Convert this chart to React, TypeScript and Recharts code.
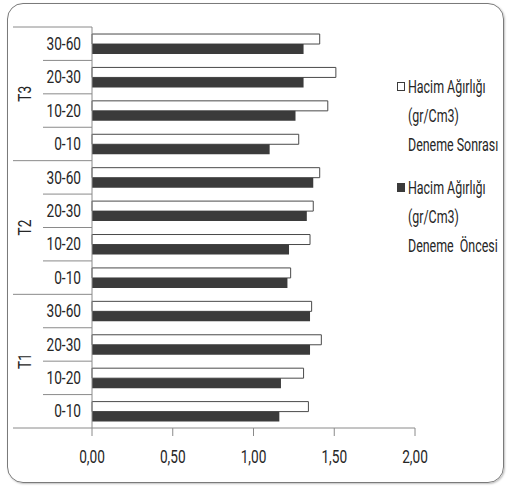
import React from 'react';
import { BarChart, Bar, XAxis, YAxis } from 'recharts';

// Soil depth classes (cm) per treatment, listed top to bottom
const groups = ['T3', 'T2', 'T1'];
const depths = ['30-60', '20-30', '10-20', '0-10'];

// Bulk density (gr/Cm3) after and before the trial
const sonrasi = [1.41, 1.51, 1.46, 1.28, 1.41, 1.37, 1.35, 1.23, 1.36, 1.42, 1.31, 1.34];
const oncesi = [1.31, 1.31, 1.26, 1.1, 1.37, 1.33, 1.22, 1.21, 1.35, 1.35, 1.17, 1.16];

const xTicks = [0, 0.5, 1, 1.5, 2];

const legendAfter = ['Hacim Ağırlığı', '(gr/Cm3)', 'Deneme Sonrası'];
const legendBefore = ['Hacim Ağırlığı', '(gr/Cm3)', 'Deneme  Öncesi'];

const data = groups.flatMap((g, gi) =>
  depths.map((d, di) => ({
    key: `${g}|${d}`,
    group: g,
    depth: d,
    sonrasi: sonrasi[gi * 4 + di],
    oncesi: oncesi[gi * 4 + di],
  }))
);

const W = 509;
const H = 486;
const X_AXIS_H = 30;
const M = { top: 27, right: 94, bottom: 58 - X_AXIS_H, left: 0 };
const AXIS_W = 92;
const PLOT_H = H - 27 - 58;
const BAND = PLOT_H / data.length;

const FONT = 'Roboto, "DejaVu Sans", sans-serif';
const FS = 18;
const SQUEEZE = 0.76;
const LEGEND_SQUEEZE = 0.69;
const LINE = '#8a8a8a';
const TEXT = '#262626';
const DARK = '#3b3b3b';

// Narrow text, like a condensed face
function NarrowText({ x, y, anchor, children, rotate = 0 }: any) {
  return (
    <g transform={`translate(${x} ${y}) rotate(${rotate}) scale(${SQUEEZE} 1)`}>
      <text x={0} y={0} textAnchor={anchor} dominantBaseline="central" fill={TEXT} fontSize={FS} fontFamily={FONT}>
        {children}
      </text>
    </g>
  );
}

function CategoryTick(props: any) {
  const { y, payload } = props;
  const i: number = payload.index;
  const row = data[i];
  const half = BAND / 2;
  const isGroupEnd = i % depths.length === depths.length - 1;
  return (
    <g>
      {i === 0 && <line x1={13} x2={AXIS_W} y1={y - half} y2={y - half} stroke={LINE} />}
      <line x1={isGroupEnd ? 13 : 43} x2={AXIS_W} y1={y + half} y2={y + half} stroke={LINE} />
      <NarrowText x={81} y={y} anchor="end">
        {row.depth}
      </NarrowText>
      {i % depths.length === 1 && (
        <NarrowText x={25} y={y + half} anchor="middle" rotate={-90}>
          {row.group}
        </NarrowText>
      )}
    </g>
  );
}

function ValueTick(props: any) {
  const { x, y, payload } = props;
  const label = Number(payload.value).toFixed(2).replace('.', ',');
  return (
    <NarrowText x={x} y={y + 19} anchor="middle">
      {label}
    </NarrowText>
  );
}

function LegendEntry({ fill, lines, top }: { fill: string; lines: string[]; top: number }) {
  return (
    <div style={{ position: 'absolute', left: 397, top }}>
      {lines.map((t, j) => (
        <div key={j} style={{ position: 'relative', height: 29 }}>
          {j === 0 && (
            <span
              style={{
                position: 'absolute',
                left: 0,
                top: 10,
                width: 8,
                height: 9,
                boxSizing: 'border-box',
                background: fill,
                border: `1px solid ${DARK}`,
              }}
            />
          )}
          <span
            style={{
              position: 'absolute',
              left: 11,
              top: 0,
              lineHeight: '29px',
              whiteSpace: 'pre',
              fontFamily: FONT,
              fontSize: FS,
              color: TEXT,
              transform: `scaleX(${LEGEND_SQUEEZE})`,
              transformOrigin: 'left center',
            }}
          >
            {t}
          </span>
        </div>
      ))}
    </div>
  );
}

export default function App() {
  return (
    <div style={{ position: 'absolute', left: 0, top: 0, width: W, height: H, background: '#fff' }}>
      <div
        style={{
          position: 'absolute',
          left: 7,
          top: 3,
          width: 495,
          height: 478,
          border: '1px solid #7a7a7a',
          borderRadius: 16,
          boxShadow: '1px 1px 2px rgba(0,0,0,0.25)',
        }}
      />
      <div style={{ position: 'absolute', left: 0, top: 0 }}>
        <BarChart
          width={W}
          height={H}
          data={data}
          layout="vertical"
          margin={M}
          barCategoryGap="21%"
          barGap={0}
        >
          <XAxis
            type="number"
            domain={[0, 2]}
            ticks={xTicks}
            interval={0}
            height={X_AXIS_H}
            axisLine={{ stroke: LINE }}
            tickLine={{ stroke: LINE }}
            tickSize={8}
            tick={<ValueTick />}
          />
          <YAxis
            type="category"
            dataKey="key"
            width={AXIS_W}
            interval={0}
            axisLine={{ stroke: LINE }}
            tickLine={false}
            tick={<CategoryTick />}
          />
          <Bar dataKey="sonrasi" name="Hacim Ağırlığı (gr/Cm3) Deneme Sonrası" fill="#ffffff" stroke="#4a4a4a" strokeWidth={1} isAnimationActive={false} />
          <Bar dataKey="oncesi" name="Hacim Ağırlığı (gr/Cm3) Deneme  Öncesi" fill={DARK} isAnimationActive={false} />
        </BarChart>
      </div>
      <LegendEntry fill="#ffffff" lines={legendAfter} top={72} />
      <LegendEntry fill={DARK} lines={legendBefore} top={173} />
    </div>
  );
}
